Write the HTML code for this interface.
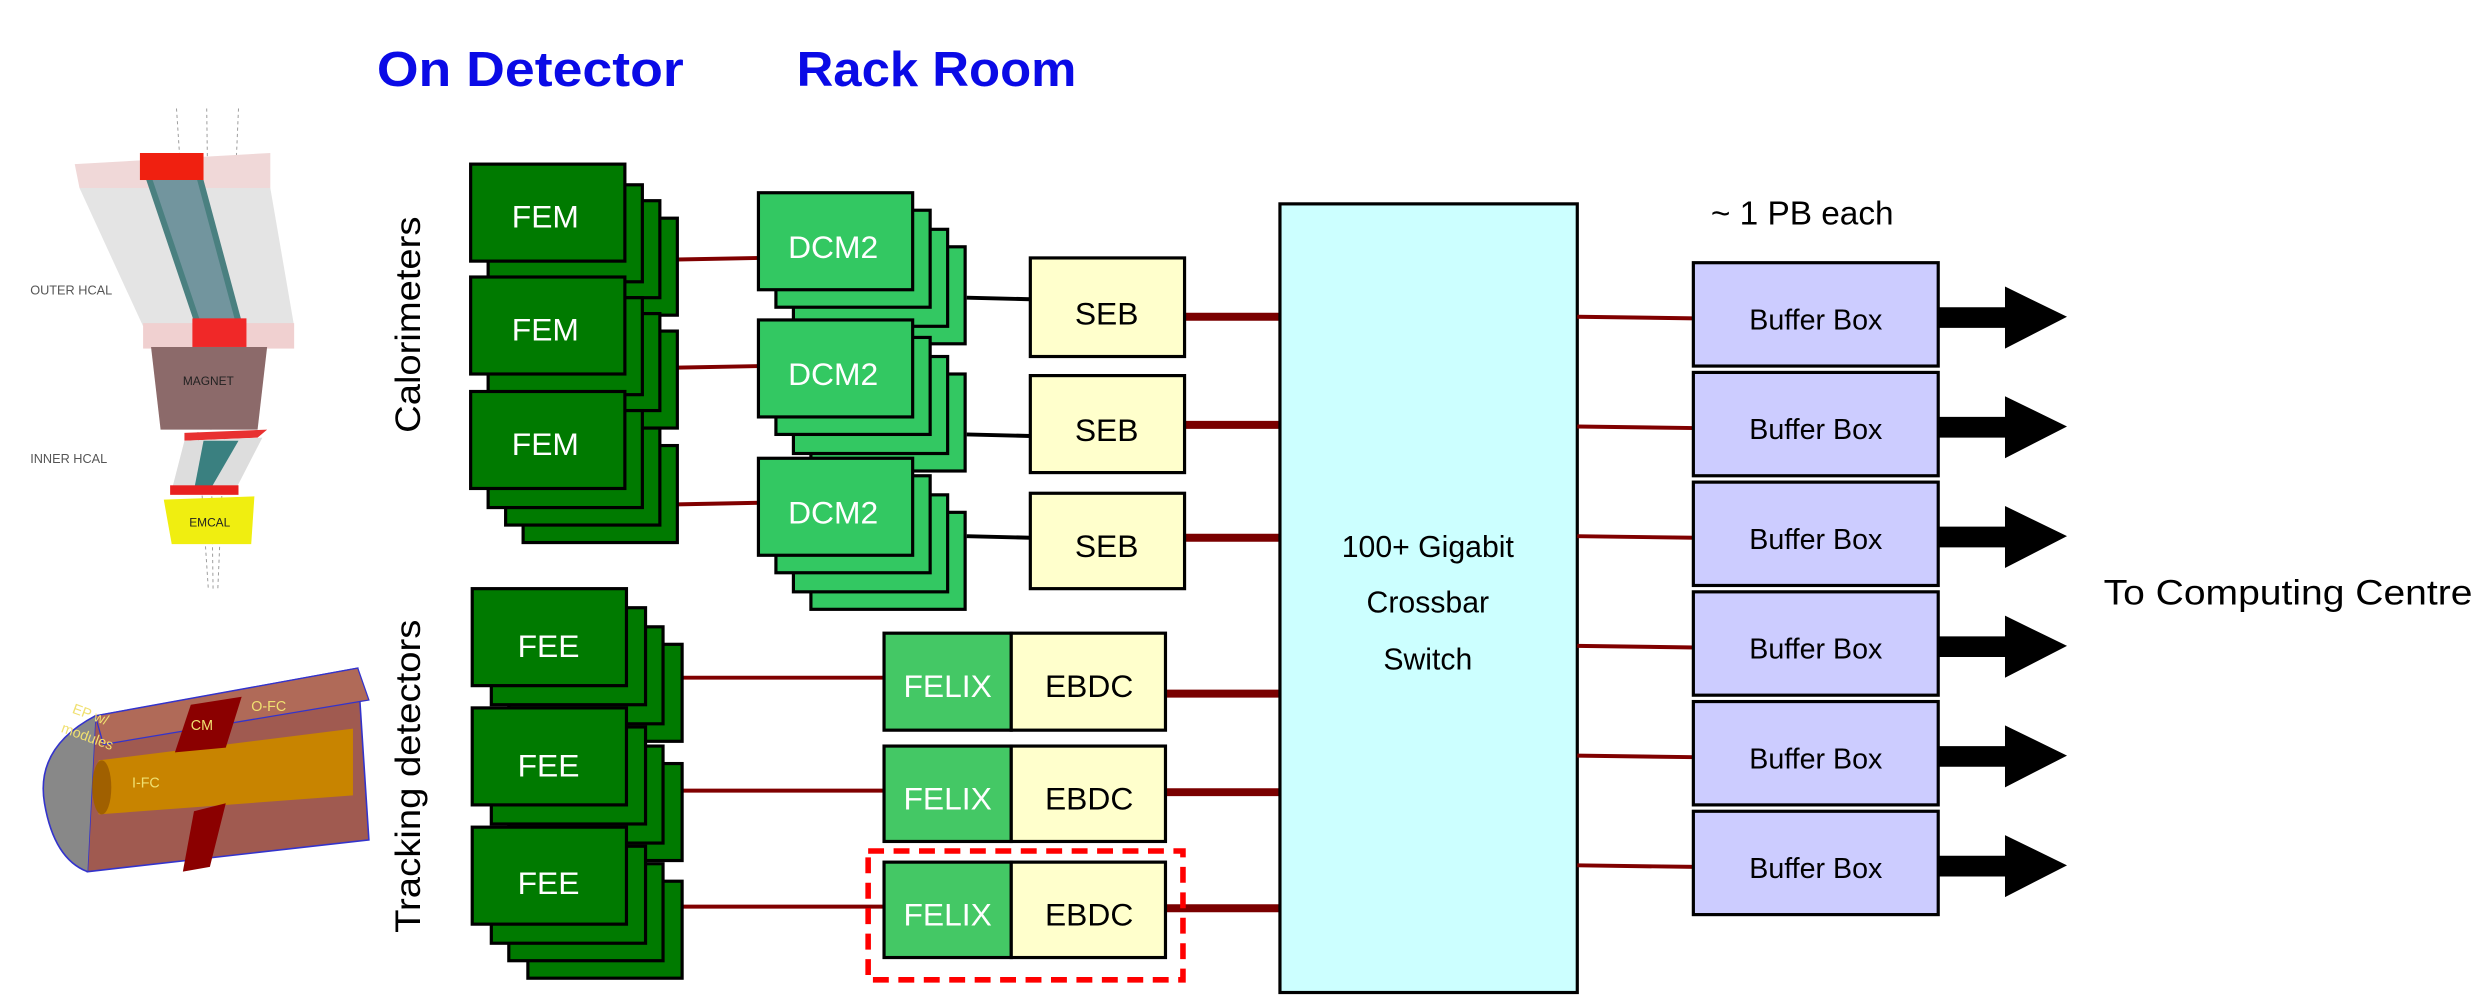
<!DOCTYPE html>
<html><head><meta charset="utf-8"><style>
html,body{margin:0;padding:0;background:#fff;}
svg{display:block;}
text{font-family:"Liberation Sans",sans-serif;}
</style></head><body>
<svg width="2482" height="1004" viewBox="0 0 1561 631" xmlns="http://www.w3.org/2000/svg">
<rect width="1561" height="631" fill="#fff"/>
<text x="237" y="54" font-size="31" font-weight="bold" fill="#0a0ae6" textLength="193" lengthAdjust="spacingAndGlyphs">On Detector</text>
<text x="501" y="54" font-size="31" font-weight="bold" fill="#0a0ae6" textLength="176" lengthAdjust="spacingAndGlyphs">Rack Room</text>

<g>
<line x1="111" y1="68" x2="131" y2="370" stroke="#999" stroke-width="0.6" stroke-dasharray="2,2"/>
<line x1="130" y1="68" x2="134" y2="370" stroke="#999" stroke-width="0.6" stroke-dasharray="2,2"/>
<line x1="150" y1="68" x2="137" y2="370" stroke="#999" stroke-width="0.6" stroke-dasharray="2,2"/>
<polygon points="47,103 170,96 170,118 50,118" fill="#f0d8d8"/>
<rect x="88" y="96" width="40" height="17" fill="#f02010"/>
<polygon points="50,118 170,118 185,205 90,205" fill="#e4e4e4"/>
<polygon points="92,113 128,113 152,202 122,202" fill="#4a8080"/>
<polygon points="96,113 124,113 148,202 126,202" fill="#9ab" opacity="0.5"/>
<rect x="90" y="203" width="95" height="16" fill="#f0d0d0"/>
<rect x="121" y="200" width="34" height="18" fill="#f02828"/>
<polygon points="95,218 168,218 162,270 101,270" fill="#8c6a6a"/>
<text x="115" y="242" font-size="7.5" fill="#222">MAGNET</text>
<polygon points="116,272 168,270 162,275 116,277" fill="#e83030"/>
<polygon points="116,277 165,275 148,308 108,308" fill="#ddd"/>
<polygon points="128,277 150,277 132,308 122,308" fill="#3a8080"/>
<rect x="107" y="305" width="43" height="6" fill="#e82020"/>
<polygon points="103,314 160,312 158,342 108,342" fill="#f0ee10"/>
<text x="119" y="331" font-size="7.5" fill="#222">EMCAL</text>
<text x="19" y="185" font-size="8" fill="#555">OUTER HCAL</text>
<text x="19" y="291" font-size="8" fill="#555">INNER HCAL</text>
</g>

<g>
<polygon points="60,450 225,420 232,528 55,548" fill="#a05a50" stroke="#33c" stroke-width="1"/>
<path d="M60,450 Q22,470 28,505 Q34,540 55,548" fill="#888" stroke="#33c" stroke-width="1"/>
<polygon points="60,450 225,420 232,440 65,468" fill="#b06a58" stroke="#33c" stroke-width="0.8"/>
<polygon points="62,478 222,458 222,500 62,512" fill="#c88400"/>
<ellipse cx="64" cy="495" rx="6" ry="17" fill="#a06000"/>
<polygon points="120,443 152,438 142,470 110,473" fill="#8b0000"/>
<polygon points="122,510 142,505 132,545 115,548" fill="#8b0000"/>
<text x="120" y="459" font-size="9" fill="#f0e070" font-family="Liberation Serif">CM</text>
<text x="158" y="447" font-size="9" fill="#f0e070" font-family="Liberation Serif">O-FC</text>
<text x="83" y="495" font-size="9" fill="#f0e070" font-family="Liberation Serif">I-FC</text>
<text x="45" y="448" font-size="9" fill="#f0e070" font-family="Liberation Serif" transform="rotate(20 45 448)">EP w/</text>
<text x="38" y="460" font-size="9" fill="#f0e070" font-family="Liberation Serif" transform="rotate(20 38 460)">modules</text>
</g>

<text transform="translate(264,204) rotate(-90)" font-size="22" text-anchor="middle" fill="#000" textLength="136" lengthAdjust="spacingAndGlyphs">Calorimeters</text>
<text transform="translate(264,488) rotate(-90)" font-size="22" text-anchor="middle" fill="#000" textLength="197" lengthAdjust="spacingAndGlyphs">Tracking detectors</text>

<g stroke="#800000" stroke-width="2.5">
<line x1="426" y1="163" x2="478" y2="162"/>
<line x1="426" y1="231" x2="478" y2="230"/>
<line x1="426" y1="317" x2="478" y2="316"/>
<line x1="429" y1="426" x2="557" y2="426"/>
<line x1="429" y1="497" x2="557" y2="497"/>
<line x1="429" y1="570" x2="557" y2="570"/>
</g>
<g stroke="#000" stroke-width="2.5">
<line x1="608" y1="187" x2="648" y2="188"/>
<line x1="608" y1="273" x2="648" y2="274"/>
<line x1="608" y1="337" x2="648" y2="338"/>
</g>
<g stroke="#7a0000" stroke-width="5">
<line x1="745" y1="199" x2="805" y2="199"/>
<line x1="745" y1="267" x2="805" y2="267"/>
<line x1="745" y1="338" x2="805" y2="338"/>
<line x1="733" y1="436" x2="805" y2="436"/>
<line x1="733" y1="498" x2="805" y2="498"/>
<line x1="733" y1="571" x2="805" y2="571"/>
</g>

<g stroke="#000" stroke-width="2" fill="#007a00">
<rect x="329" y="137" width="97" height="61"/><rect x="318" y="126" width="97" height="61"/><rect x="307" y="116" width="97" height="61"/><rect x="296" y="103" width="97" height="61"/>
<rect x="329" y="208" width="97" height="61"/><rect x="318" y="197" width="97" height="61"/><rect x="307" y="187" width="97" height="61"/><rect x="296" y="174" width="97" height="61"/>
<rect x="329" y="280" width="97" height="61"/><rect x="318" y="269" width="97" height="61"/><rect x="307" y="258" width="97" height="61"/><rect x="296" y="246" width="97" height="61"/>
<rect x="332" y="405" width="97" height="61"/><rect x="320" y="394" width="97" height="61"/><rect x="309" y="382" width="97" height="61"/><rect x="297" y="370" width="97" height="61"/>
<rect x="332" y="480" width="97" height="61"/><rect x="320" y="469" width="97" height="61"/><rect x="309" y="457" width="97" height="61"/><rect x="297" y="445" width="97" height="61"/>
<rect x="332" y="554" width="97" height="61"/><rect x="320" y="543" width="97" height="61"/><rect x="309" y="532" width="97" height="61"/><rect x="297" y="520" width="97" height="61"/>
</g>
<g stroke="#000" stroke-width="2" fill="#33c862">
<rect x="510" y="155" width="97" height="61"/><rect x="499" y="144" width="97" height="61"/><rect x="488" y="132" width="97" height="61"/><rect x="477" y="121" width="97" height="61"/>
<rect x="510" y="235" width="97" height="61"/><rect x="499" y="224" width="97" height="61"/><rect x="488" y="212" width="97" height="61"/><rect x="477" y="201" width="97" height="61"/>
<rect x="510" y="322" width="97" height="61"/><rect x="499" y="311" width="97" height="61"/><rect x="488" y="299" width="97" height="61"/><rect x="477" y="288" width="97" height="61"/>
</g>
<g font-size="20" fill="#fff" text-anchor="middle">
<text x="343" y="143">FEM</text><text x="343" y="214">FEM</text><text x="343" y="286">FEM</text>
<text x="345" y="413">FEE</text><text x="345" y="488">FEE</text><text x="345" y="562">FEE</text>
<text x="524" y="162">DCM2</text><text x="524" y="242">DCM2</text><text x="524" y="329">DCM2</text>
</g>

<g stroke="#000" stroke-width="2" fill="#ffffcc">
<rect x="648" y="162" width="97" height="62"/>
<rect x="648" y="236" width="97" height="61"/>
<rect x="648" y="310" width="97" height="60"/>
</g>
<g font-size="20" fill="#000" text-anchor="middle">
<text x="696" y="204">SEB</text>
<text x="696" y="277">SEB</text>
<text x="696" y="350">SEB</text>
</g>

<g stroke="#000" stroke-width="2">
<rect x="556" y="398" width="80" height="61" fill="#44c865"/><rect x="636" y="398" width="97" height="61" fill="#ffffcc"/>
<rect x="556" y="469" width="80" height="60" fill="#44c865"/><rect x="636" y="469" width="97" height="60" fill="#ffffcc"/>
<rect x="556" y="542" width="80" height="60" fill="#44c865"/><rect x="636" y="542" width="97" height="60" fill="#ffffcc"/>
</g>
<g font-size="20" text-anchor="middle">
<text x="596" y="438" fill="#fff">FELIX</text><text x="685" y="438">EBDC</text>
<text x="596" y="509" fill="#fff">FELIX</text><text x="685" y="509">EBDC</text>
<text x="596" y="582" fill="#fff">FELIX</text><text x="685" y="582">EBDC</text>
</g>
<rect x="546" y="535" width="198" height="81" fill="none" stroke="#ff0000" stroke-width="3.5" stroke-dasharray="10,6"/>

<rect x="805" y="128" width="187" height="496" fill="#ccffff" stroke="#000" stroke-width="2"/>
<g font-size="19" text-anchor="middle">
<text x="898" y="350">100+ Gigabit</text>
<text x="898" y="385">Crossbar</text>
<text x="898" y="421">Switch</text>
</g>

<g stroke="#800000" stroke-width="2.5">
<line x1="992" y1="199" x2="1066" y2="200"/>
<line x1="992" y1="268" x2="1066" y2="269"/>
<line x1="992" y1="337" x2="1066" y2="338"/>
<line x1="992" y1="406" x2="1066" y2="407"/>
<line x1="992" y1="475" x2="1066" y2="476"/>
<line x1="992" y1="544" x2="1066" y2="545"/>
</g>

<g stroke="#000" stroke-width="2" fill="#ccccff">
<rect x="1065" y="165" width="154" height="65"/>
<rect x="1065" y="234" width="154" height="65"/>
<rect x="1065" y="303" width="154" height="65"/>
<rect x="1065" y="372" width="154" height="65"/>
<rect x="1065" y="441" width="154" height="65"/>
<rect x="1065" y="510" width="154" height="65"/>
</g>
<g font-size="18" text-anchor="middle">
<text x="1142" y="207">Buffer Box</text>
<text x="1142" y="276">Buffer Box</text>
<text x="1142" y="345">Buffer Box</text>
<text x="1142" y="414">Buffer Box</text>
<text x="1142" y="483">Buffer Box</text>
<text x="1142" y="552">Buffer Box</text>
</g>
<g fill="#000">
<polygon points="1219,193 1261,193 1261,180 1300,199 1261,219 1261,206 1219,206"/>
<polygon points="1219,262 1261,262 1261,249 1300,268 1261,288 1261,275 1219,275"/>
<polygon points="1219,331 1261,331 1261,318 1300,337 1261,357 1261,344 1219,344"/>
<polygon points="1219,400 1261,400 1261,387 1300,406 1261,426 1261,413 1219,413"/>
<polygon points="1219,469 1261,469 1261,456 1300,475 1261,495 1261,482 1219,482"/>
<polygon points="1219,538 1261,538 1261,525 1300,544 1261,564 1261,551 1219,551"/>
</g>
<text x="1076" y="141" font-size="21">~ 1 PB each</text>
<text x="1323" y="380" font-size="22" textLength="232" lengthAdjust="spacingAndGlyphs">To Computing Centre</text>
</svg>
</body></html>
